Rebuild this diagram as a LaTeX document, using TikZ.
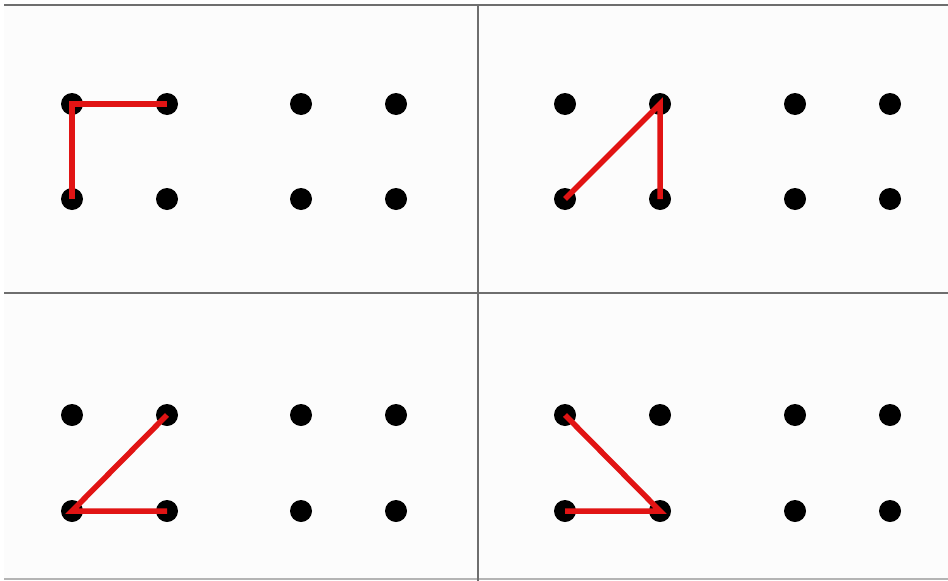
\documentclass[tikz,border=0pt]{standalone}
\definecolor{redln}{RGB}{225,20,20}
\definecolor{framegray}{RGB}{110,110,110}
\definecolor{lightframe}{RGB}{180,180,180}
\definecolor{panelbg}{RGB}{252,252,252}
\begin{document}
\begin{tikzpicture}[x=1pt,y=-1pt,
  dot/.style={circle,fill=black,inner sep=0pt,minimum size=22pt},
  redline/.style={draw=redln,line width=5.5pt},
  frame/.style={draw=framegray,line width=1.8pt}]
\useasboundingbox (0,0) rectangle (948,581);
\fill[white] (0,0) rectangle (948,581);
\fill[panelbg] (4,5) rectangle (948,579);
\draw[frame] (4,5) -- (948,5);
\draw[frame] (4,293) -- (948,293);
\draw[draw=lightframe,line width=1.5pt] (4,579) -- (948,579);
\draw[frame] (478,5) -- (478,581);
\foreach \n/\x/\y in {a1/72/104,a2/167/104,a3/301/104,a4/396/104,a5/72/199,a6/167/199,a7/301/199,a8/396/199,
  b1/565/104,b2/660/104,b3/795/104,b4/890/104,b5/565/199,b6/660/199,b7/795/199,b8/890/199,
  c1/72/415,c2/167/415,c3/301/415,c4/396/415,c5/72/511,c6/167/511,c7/301/511,c8/396/511,
  d1/565/415,d2/660/415,d3/795/415,d4/890/415,d5/565/511,d6/660/511,d7/795/511,d8/890/511}
  \node[dot] (\n) at (\x,\y) {};
\draw[redline] (a2.center) -- (a1.center) -- (a5.center);
\draw[redline] (b5.center) -- (b2.center) -- (b6.center);
\draw[redline] (c2.center) -- (c5.center) -- (c6.center);
\draw[redline] (d1.center) -- (d6.center) -- (d5.center);
\end{tikzpicture}
\end{document}
